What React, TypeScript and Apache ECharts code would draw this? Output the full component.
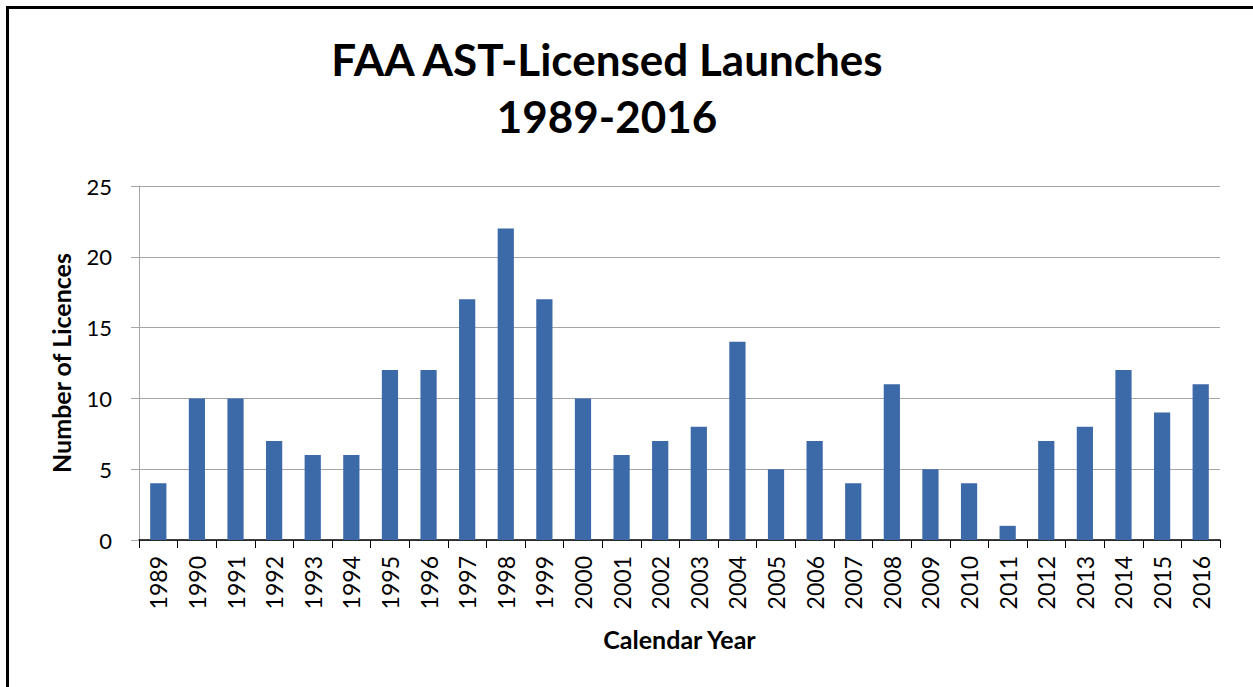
import React, { useEffect, useRef } from "react";
import * as echarts from "echarts";

const years = ["1989","1990","1991","1992","1993","1994","1995","1996","1997","1998","1999","2000","2001","2002","2003","2004","2005","2006","2007","2008","2009","2010","2011","2012","2013","2014","2015","2016"];
const licences = [4,10,10,7,6,6,12,12,17,22,17,10,6,7,8,14,5,7,4,11,5,4,1,7,8,12,9,11];
const titleLines = ["FAA AST-Licensed Launches", "1989-2016"];
const yTicks = { min: 0, max: 25, interval: 5 };

const FONT = "Lato, 'Open Sans', sans-serif";

export default function App() {
  const ref = useRef<HTMLDivElement>(null);
  useEffect(() => {
    document.body.style.margin = "0";
    const chart = echarts.init(ref.current!, null, { renderer: "svg" });
    chart.setOption({
      animation: false,
      backgroundColor: "#ffffff",
      textStyle: { fontFamily: FONT },
      title: {
        text: titleLines.join("\n"),
        left: 602,
        top: 25,
        textAlign: "center",
        textStyle: { fontFamily: FONT, fontSize: 44, fontWeight: "bold", color: "#000", lineHeight: 57 },
      },
      graphic: [
        {
          type: "rect",
          shape: { x: 7.5, y: 7.5, width: 1260, height: 700 },
          style: { fill: "none", stroke: "#000", lineWidth: 3 },
          silent: true,
        },
      ],
      grid: { left: 139, right: 33, top: 186, bottom: 147 },
      xAxis: {
        type: "category",
        data: years,
        boundaryGap: true,
        axisLine: { lineStyle: { color: "#000", width: 1.5 } },
        axisTick: { show: true, length: 8, alignWithLabel: false, lineStyle: { color: "#000" } },
        axisLabel: { rotate: 90, margin: 16, fontSize: 23, color: "#000", fontFamily: FONT, interval: 0 },
        name: "Calendar Year",
        nameLocation: "middle",
        nameGap: 86,
        nameTextStyle: { fontSize: 25, fontWeight: "bold", color: "#000", fontFamily: FONT },
      },
      yAxis: {
        type: "value",
        min: yTicks.min,
        max: yTicks.max,
        interval: yTicks.interval,
        axisLine: { show: true, lineStyle: { color: "#a6a6a6" } },
        axisTick: { show: true, length: 8, lineStyle: { color: "#a6a6a6" } },
        splitLine: { lineStyle: { color: "#a6a6a6" } },
        axisLabel: { margin: 27, fontSize: 22, color: "#000", fontFamily: FONT },
        name: "Number of Licences",
        nameLocation: "middle",
        nameGap: 66,
        nameRotate: 90,
        nameTextStyle: { fontSize: 25, fontWeight: "bold", color: "#000", fontFamily: FONT },
      },
      series: [
        {
          type: "bar",
          data: licences,
          barWidth: "42%",
          itemStyle: { color: "#3c69a8" },
        },
      ],
    });
    return () => chart.dispose();
  }, []);
  return <div ref={ref} style={{ width: 1253, height: 687 }} />;
}
